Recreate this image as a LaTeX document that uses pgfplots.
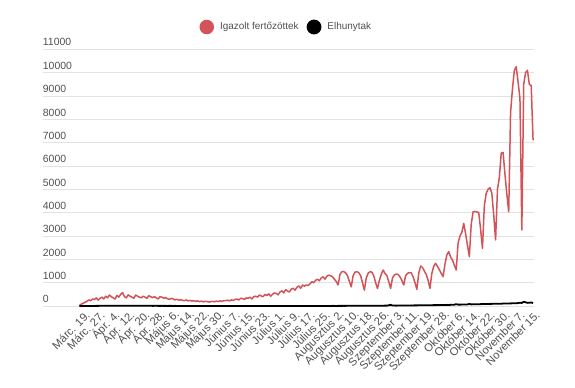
\documentclass[border=0pt]{standalone}
\usepackage{fontspec}
\setmainfont{Liberation Sans}
\usepackage{pgfplots}
\pgfplotsset{compat=1.18}
\definecolor{cred}{RGB}{210,84,88}
\definecolor{cgrid}{RGB}{226,226,226}
\definecolor{ctext}{RGB}{80,80,80}
\begin{document}
\begin{tikzpicture}[x=1bp,y=1bp]
\useasboundingbox (0,0) rectangle (575,387);
\begin{axis}[
  at={(42.7bp,81bp)}, anchor=south west,
  scale only axis, width=491.3bp, height=256.7bp,
  xmin=-19.6, xmax=242.5, ymin=0, ymax=11000,
  axis line style={draw=none},
  major tick length=0pt,
  ytick={0,1000,...,11000},
  ymajorgrids, grid style={cgrid, line width=0.9bp},
  xtick={0,8,...,240},
  xticklabels={Márc. 19.,Márc. 27.,Ápr. 4.,Ápr. 12.,Ápr. 20.,Ápr. 28.,Május 6.,Május 14.,Május 22.,Május 30.,Június 7.,Június 15.,Június 23.,Július 1.,Július 9.,Július 17.,Július 25.,Augusztus 2.,Augusztus 10.,Augusztus 18.,Augusztus 26.,Szeptember 3.,Szeptember 11.,Szeptember 19.,Szeptember 28.,Október 6.,Október 14.,Október 22.,Október 30.,November 7.,November 15.},
  xticklabel style={rotate=45, anchor=east, font=\fontsize{11.3}{13}\selectfont, text=ctext, inner sep=0pt, yshift=-11bp, xshift=1bp},
  yticklabel style={anchor=south west, font=\fontsize{10.5}{12}\selectfont, text=ctext, inner sep=0pt, yshift=3bp},
  scaled y ticks=false,
  /pgf/number format/assume math mode=true,
  /pgf/number format/1000 sep={},
  clip=false,
  legend columns=-1,
  legend style={at={(0.5,1)}, anchor=center, xshift=-2bp, yshift=22.3bp, draw=none, fill=none,
    font=\fontsize{10}{12}\selectfont, text=ctext,
    /tikz/every odd column/.append style={column sep=4bp},
    /tikz/every even column/.append style={column sep=6bp}},
  legend image code/.code={\fill[#1] (0bp,0bp) circle (6.5bp);},
]
\addplot[color=cred, line width=1.5bp, line join=round, mark=none] coordinates {
(0,20)(1,80)(2,120)(3,160)(4,200)(5,260)(6,230)(7,300)(8,280)(9,350)
(10,250)(11,330)(12,380)(13,300)(14,420)(15,350)(16,470)(17,400)(18,350)(19,300)
(20,450)(21,380)(22,500)(23,570)(24,400)(25,350)(26,480)(27,420)(28,380)(29,330)
(30,470)(31,420)(32,380)(33,350)(34,420)(35,380)(36,330)(37,440)(38,400)(39,360)
(40,400)(41,350)(42,300)(43,400)(44,380)(45,330)(46,360)(47,310)(48,280)(49,330)
(50,300)(51,260)(52,290)(53,250)(54,270)(55,240)(56,230)(57,260)(58,220)(59,240)
(60,210)(61,230)(62,200)(63,220)(64,190)(65,210)(66,180)(67,200)(68,190)(69,170)
(70,185)(71,200)(72,180)(73,210)(74,190)(75,220)(76,200)(77,230)(78,230)(79,250)
(80,220)(81,260)(82,240)(83,280)(84,300)(85,260)(86,330)(87,320)(88,280)(89,350)
(90,330)(91,380)(92,300)(93,400)(94,420)(95,380)(96,470)(97,430)(98,400)(99,500)
(100,450)(101,520)(102,420)(103,500)(104,560)(105,540)(106,480)(107,600)(108,650)(109,560)
(110,700)(111,640)(112,600)(113,720)(114,760)(115,680)(116,800)(117,860)(118,760)(119,900)
(120,850)(121,900)(122,880)(123,950)(124,1040)(125,1000)(126,1100)(127,1150)(128,1080)(129,1200)
(130,1250)(131,1150)(132,1280)(133,1320)(134,1300)(135,1250)(136,1150)(137,1050)(138,900)(139,1350)
(140,1470)(141,1480)(142,1420)(143,1300)(144,1050)(145,820)(146,1300)(147,1450)(148,1470)(149,1430)
(150,1300)(151,1000)(152,680)(153,1200)(154,1400)(155,1470)(156,1450)(157,1300)(158,1000)(159,750)
(160,1100)(161,1350)(162,1540)(163,1400)(164,1300)(165,1050)(166,757)(167,1200)(168,1330)(169,1370)
(170,1350)(171,1250)(172,1100)(173,900)(174,1300)(175,1400)(176,1430)(177,1420)(178,1250)(179,1000)
(180,714)(181,1400)(182,1714)(183,1650)(184,1500)(185,1350)(186,1100)(187,757)(188,1400)(189,1700)
(190,1830)(191,1700)(192,1550)(193,1400)(194,1257)(195,1800)(196,2190)(197,2330)(198,2100)(199,1970)
(200,1750)(201,1543)(202,2700)(203,3000)(204,3150)(205,3540)(206,3100)(207,2600)(208,2114)(209,3500)
(210,4040)(211,4050)(212,4030)(213,4010)(214,3300)(215,2470)(216,4300)(217,4830)(218,5000)(219,5070)
(220,4830)(221,3900)(222,2830)(223,5000)(224,5500)(225,6550)(226,6580)(227,5650)(228,4800)(229,4040)
(230,8300)(231,9300)(232,10100)(233,10250)(234,9600)(235,8900)(236,3260)(237,9500)(238,10000)(239,10100)
(240,9500)(241,9450)(242,7100)
};
\addlegendentry{Igazolt fertőzöttek}
\addplot[color=black, line width=1.8bp, line join=round, mark=none] coordinates {
(0,0)(1,1)(2,1)(3,1)(4,2)(5,1)(6,3)(7,2)(8,4)(9,5)
(10,6)(11,8)(12,9)(13,7)(14,10)(15,11)(16,9)(17,12)(18,13)(19,10)
(20,14)(21,12)(22,11)(23,13)(24,10)(25,12)(26,11)(27,9)(28,10)(29,12)
(30,11)(31,10)(32,9)(33,8)(34,10)(35,9)(36,7)(37,8)(38,9)(39,6)
(40,7)(41,8)(42,6)(43,5)(44,7)(45,6)(46,5)(47,4)(48,6)(49,5)
(50,4)(51,5)(52,3)(53,4)(54,3)(55,2)(56,3)(57,4)(58,2)(59,3)
(60,2)(61,1)(62,2)(63,3)(64,1)(65,2)(66,1)(67,0)(68,1)(69,2)
(70,1)(71,0)(72,1)(73,0)(74,2)(75,1)(76,0)(77,1)(78,0)(79,1)
(80,0)(81,1)(82,2)(83,0)(84,1)(85,0)(86,1)(87,0)(88,0)(89,1)
(90,0)(91,1)(92,0)(93,0)(94,1)(95,0)(96,2)(97,0)(98,1)(99,0)
(100,0)(101,1)(102,0)(103,0)(104,2)(105,1)(106,0)(107,0)(108,1)(109,0)
(110,0)(111,1)(112,0)(113,1)(114,0)(115,0)(116,1)(117,0)(118,1)(119,2)
(120,1)(121,0)(122,1)(123,2)(124,1)(125,3)(126,2)(127,1)(128,2)(129,3)
(130,2)(131,3)(132,4)(133,2)(134,3)(135,5)(136,4)(137,3)(138,5)(139,6)
(140,5)(141,7)(142,6)(143,8)(144,9)(145,7)(146,10)(147,9)(148,11)(149,10)
(150,12)(151,11)(152,13)(153,12)(154,14)(155,11)(156,13)(157,15)(158,12)(159,14)
(160,13)(161,15)(162,14)(163,16)(164,15)(165,30)(166,55)(167,18)(168,18)(169,17)
(170,18)(171,20)(172,19)(173,22)(174,21)(175,24)(176,23)(177,26)(178,25)(179,28)
(180,27)(181,30)(182,29)(183,32)(184,31)(185,34)(186,33)(187,36)(188,35)(189,38)
(190,37)(191,40)(192,39)(193,42)(194,45)(195,43)(196,48)(197,46)(198,50)(199,52)
(200,55)(201,80)(202,60)(203,58)(204,62)(205,65)(206,63)(207,68)(208,90)(209,70)
(210,72)(211,75)(212,78)(213,74)(214,80)(215,85)(216,82)(217,88)(218,86)(219,90)
(220,92)(221,95)(222,93)(223,98)(224,100)(225,96)(226,105)(227,110)(228,104)(229,108)
(230,112)(231,115)(232,120)(233,118)(234,125)(235,140)(236,130)(237,180)(238,160)(239,135)
(240,140)(241,150)(242,130)
};
\addlegendentry{Elhunytak}
\end{axis}
\end{tikzpicture}
\end{document}
